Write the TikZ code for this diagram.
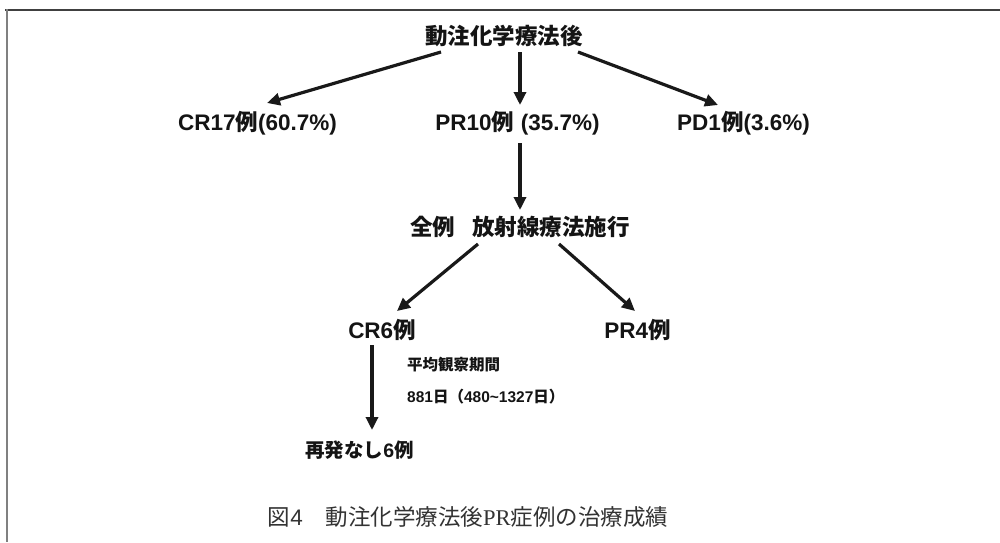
\documentclass[tikz,border=0pt]{standalone}
\usepackage{fontspec}
\setmainfont{Liberation Sans}
\newfontfamily\cjk{Noto Sans CJK JP}
\newfontfamily\lserif{Liberation Serif}
\usetikzlibrary{arrows.meta,calc}
\newcommand\jtxt[1]{{\cjk #1}}
\begin{document}
\begin{tikzpicture}[x=1pt,y=-1pt,
  lbl/.style={inner sep=0pt,font=\fontsize{22.5}{26}\selectfont\bfseries,text=black!92},
  small/.style={inner sep=0pt,font=\fontsize{15.5}{18}\selectfont\bfseries,text=black!92,anchor=west},
  arr/.style={line width=3.2pt,draw=black!90,-{Triangle[length=13pt,width=12pt]}}]
\useasboundingbox (0,0) rectangle (1000,542);
\fill[white] (0,0) rectangle (1000,542);
\draw[line width=2pt,black!75] (5,10) -- (1000,10);
\draw[line width=2.4pt,black!50] (7,9) -- (7,542);

\node[lbl] (top) at (504,36) {\jtxt{動注化学療法後}};
\node[lbl] (cr17) at (257.5,123) {CR17\jtxt{例}(60.7\%)};
\node[lbl] (pr10) at (517.5,123) {PR10\jtxt{例}\hspace{0.3em}(35.7\%)};
\node[lbl] (pd1) at (743.5,123) {PD1\jtxt{例}(3.6\%)};
\node[lbl] (all) at (520,227) {\jtxt{全例}\hspace{0.75em}\jtxt{放射線療法施行}};
\node[lbl] (cr6) at (382,330) {CR6\jtxt{例}};
\node[lbl] (pr4) at (637.5,330) {PR4\jtxt{例}};
\node[small] (obs) at (407,365) {\jtxt{平均観察期間}};
\node[small] (days) at (407,397) {881\jtxt{日（}480\textasciitilde1327\jtxt{日）}};
\node[lbl,font=\fontsize{19.5}{23}\selectfont\bfseries] (norec) at (359.5,450) {\jtxt{再発なし}6\jtxt{例}};
\node[inner sep=0pt,font=\fontsize{22.5}{26}\selectfont,text=black!80] (cap) at (468,517)
  {\jtxt{図}4\jtxt{　動注化学療法後}{\lserif PR}\jtxt{症例の治療成績}};

\draw[arr] ($(top)+(-63,16)$) -- ($(cr17)+(9.5,-20)$);
\draw[arr] ($(top)+(16,16)$) -- ($(pr10)+(2.5,-18)$);
\draw[arr] ($(top)+(74,16)$) -- ($(pd1)+(-25.5,-18)$);
\draw[arr] ($(pr10)+(2.5,20)$) -- ($(all)+(0,-17)$);
\draw[arr] ($(all)+(-42,17)$) -- ($(cr6)+(15,-19)$);
\draw[arr] ($(all)+(39,17)$) -- ($(pr4)+(-2.5,-19)$);
\draw[arr] ($(cr6)+(-10,15)$) -- ($(norec)+(12.5,-20)$);
\end{tikzpicture}
\end{document}
